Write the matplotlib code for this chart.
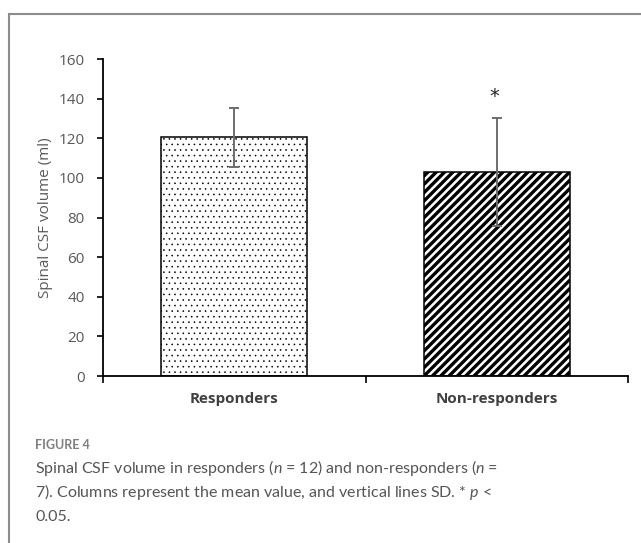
import numpy as np
import matplotlib
matplotlib.use("Agg")
import matplotlib.pyplot as plt
from matplotlib.patches import Rectangle

# Data
categories = ["Responders", "Non-responders"]
means = [120.5, 103.0]
sd = [15.0, 27.3]
hatches = ["...", "////"]
hatch_lw = [0.4, 2.4]
star_labels = ["", "*"]
caption_lines = [
    "Spinal CSF volume in responders ($n$ = 12) and non-responders ($n$ =",
    "7). Columns represent the mean value, and vertical lines SD. * $p$ <",
    "0.05.",
]

plt.rcParams["font.family"] = ["Open Sans", "DejaVu Sans"]
plt.rcParams["mathtext.fontset"] = "custom"
plt.rcParams["mathtext.rm"] = "Lato"
plt.rcParams["mathtext.it"] = "Lato:italic"
plt.rcParams["hatch.color"] = "black"

fig = plt.figure(figsize=(6.41, 5.43), dpi=100)
ax = fig.add_axes([103 / 641, 1 - 376 / 543, 525 / 641, 317 / 543])

x = np.arange(len(categories)) + 0.5
for xi, m, h, hl in zip(x, means, hatches, hatch_lw):
    with plt.rc_context({"hatch.linewidth": hl}):
        b = ax.bar(xi, m, width=0.556, color="white", edgecolor="black",
                   linewidth=1.1, hatch=h, zorder=2)
    for p in b:
        if hasattr(p, "set_hatch_linewidth"):
            p.set_hatch_linewidth(hl)
ax.errorbar(x, means, yerr=sd, fmt="none", ecolor="#6e6e6e",
            elinewidth=1.4, capsize=3.5, capthick=1.4, zorder=3)

# significance marker
for xi, m, s, lab in zip(x, means, sd, star_labels):
    if lab:
        ax.text(xi - 0.01, m + s + 6, lab, ha="center", va="bottom",
                fontsize=14, color="#222222", family="DejaVu Sans")

ax.set_xlim(0, 2)
ax.set_ylim(0, 160)
ax.set_yticks(np.arange(0, 161, 20))
ax.set_xticks([0, 1, 2])
ax.set_xticklabels([])
ax.tick_params(axis="y", direction="out", length=4, width=1.2,
               labelsize=11, labelcolor="#595959", pad=9)
ax.tick_params(axis="x", direction="out", length=5, width=1.2)
for xi, c in zip(x, categories):
    ax.text(xi, -8, c, transform=ax.transData, ha="center", va="top",
            fontsize=11, fontweight="bold", color="#404040")
ax.set_ylabel("Spinal CSF volume (ml)", fontsize=11, color="#595959",
              labelpad=4)

for side in ["top", "right"]:
    ax.spines[side].set_visible(False)
for side in ["left", "bottom"]:
    ax.spines[side].set_linewidth(1.3)
    ax.spines[side].set_color("black")

# outer frame of the figure panel
frame = Rectangle((9 / 641, -0.1), 1.2, 1.1 - 14 / 543, transform=fig.transFigure,
                  fill=False, edgecolor="#8c8c8c", linewidth=1.5, clip_on=False)
fig.add_artist(frame)

fig.text(35 / 641, 1 - 445 / 543, "FIGURE 4", fontsize=9, color="#7f7f7f",
         family="Lato", fontweight="bold", va="center")
for i, line in enumerate(caption_lines):
    fig.text(35 / 641, 1 - (473 + 24 * i) / 543, line, fontsize=11.5,
             color="#555555", family="Lato", va="baseline")

fig.savefig("out.png", dpi=100)
